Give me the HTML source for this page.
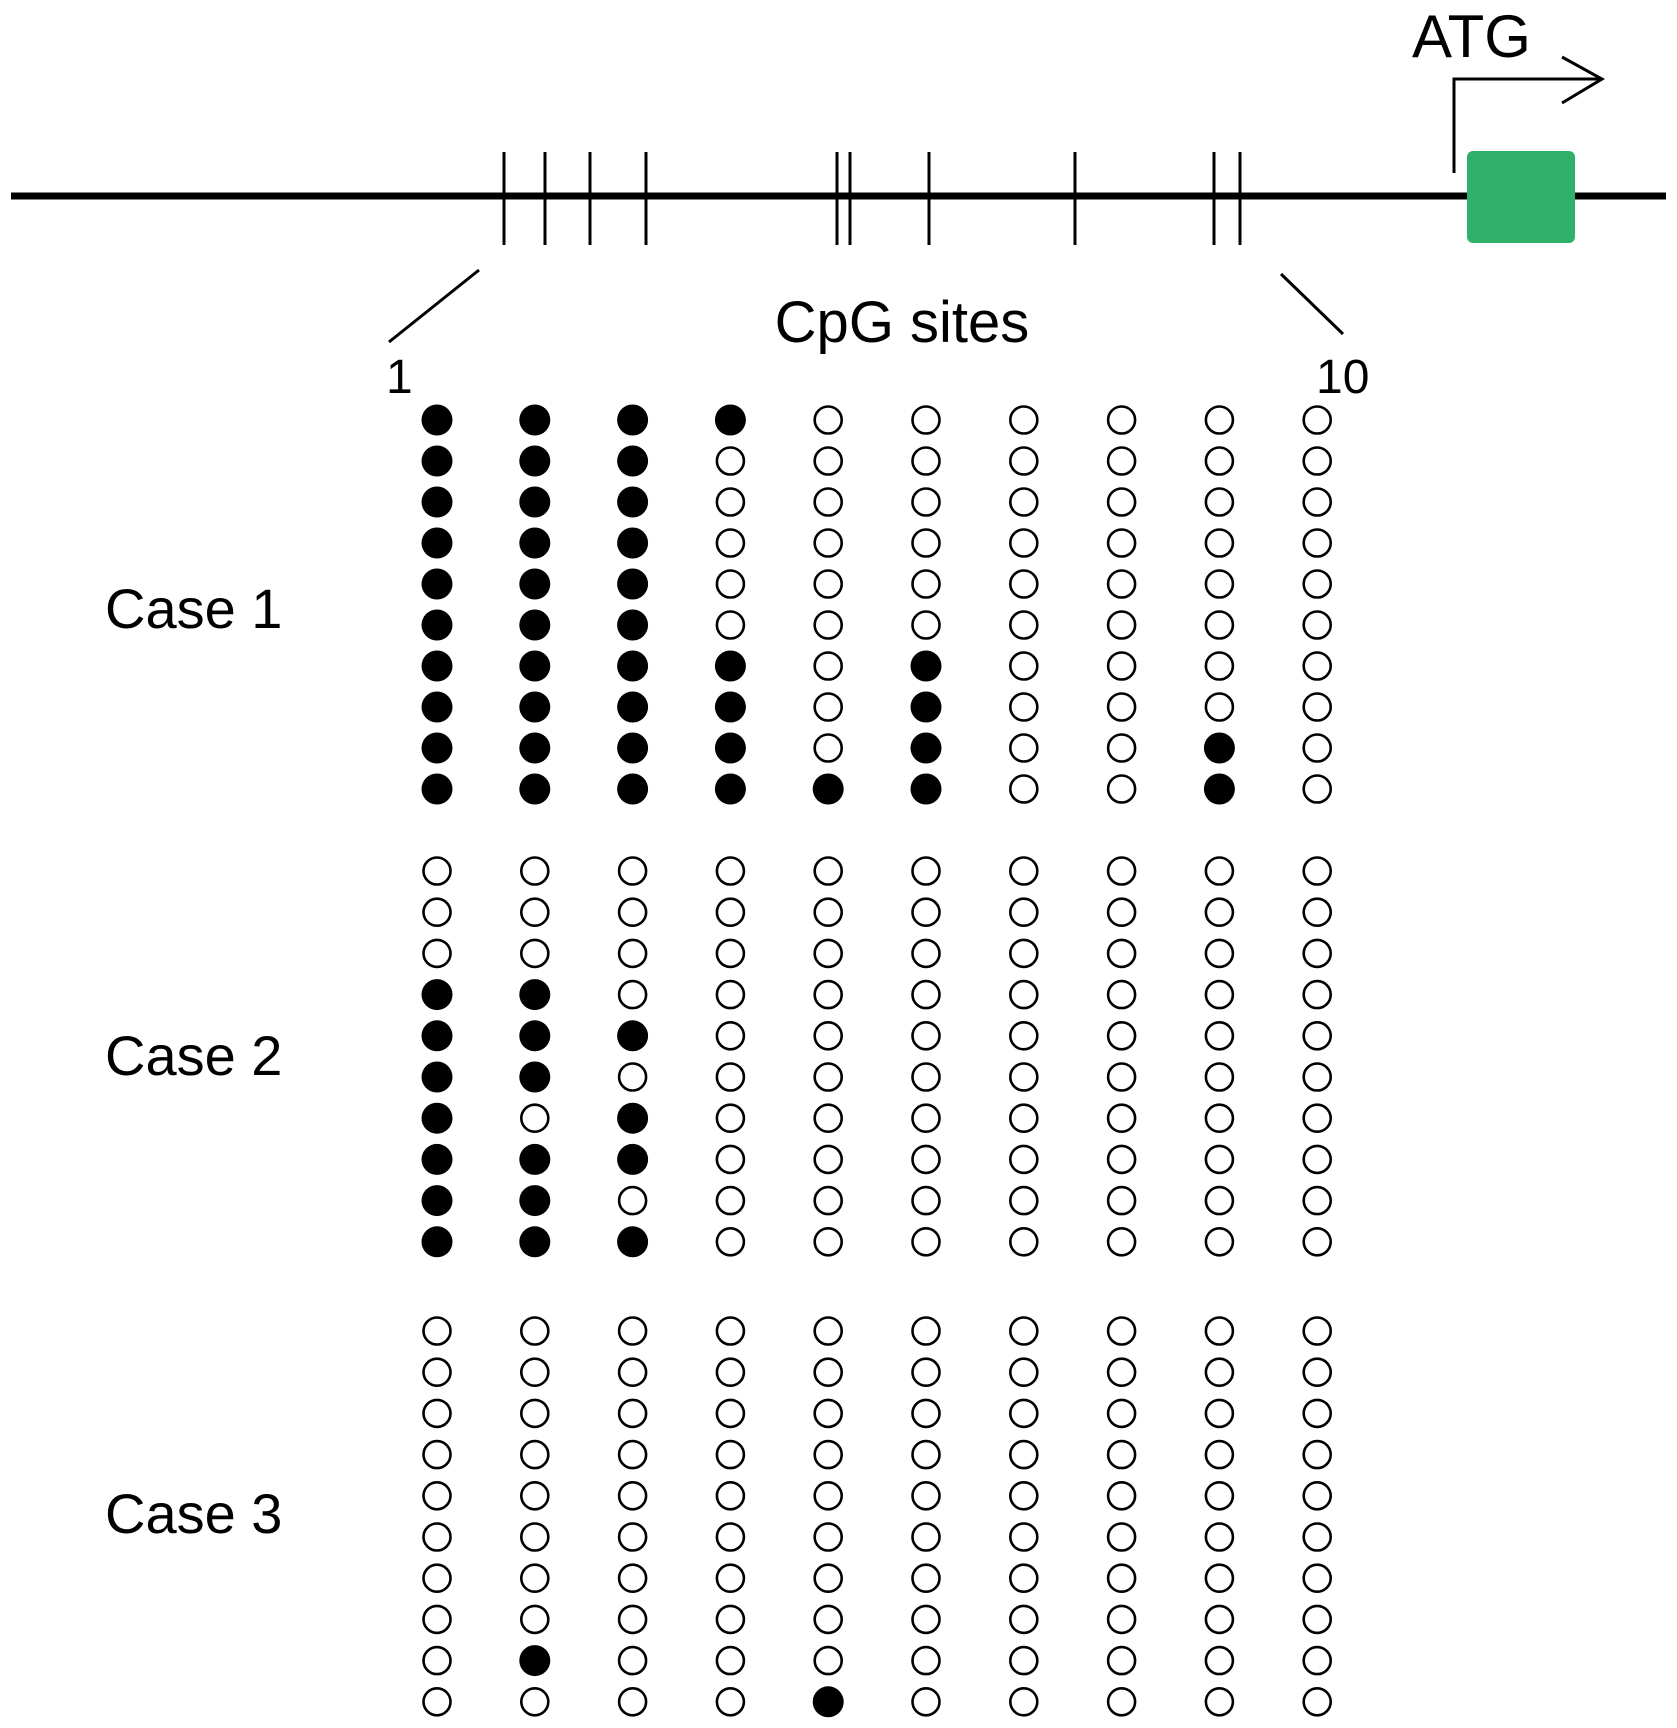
<!DOCTYPE html>
<html><head><meta charset="utf-8"><style>
html,body{margin:0;padding:0;background:#fff;}
svg{display:block;}
text{font-family:"Liberation Sans",Arial,sans-serif;fill:#000;}
</style></head><body>
<svg id="s" width="1677" height="1728" viewBox="0 0 1677 1728" xmlns="http://www.w3.org/2000/svg">
<line x1="11" y1="196" x2="1666" y2="196" stroke="#000" stroke-width="7"/>
<g stroke="#000" stroke-width="3">
<line x1="504" y1="152" x2="504" y2="245"/>
<line x1="545" y1="152" x2="545" y2="245"/>
<line x1="590" y1="152" x2="590" y2="245"/>
<line x1="646" y1="152" x2="646" y2="245"/>
<line x1="837" y1="152" x2="837" y2="245"/>
<line x1="850" y1="152" x2="850" y2="245"/>
<line x1="929" y1="152" x2="929" y2="245"/>
<line x1="1075" y1="152" x2="1075" y2="245"/>
<line x1="1214" y1="152" x2="1214" y2="245"/>
<line x1="1240" y1="152" x2="1240" y2="245"/>
<line x1="479" y1="270" x2="389" y2="342"/>
<line x1="1281" y1="274" x2="1343" y2="334"/>
<polyline points="1454,173 1454,79 1602,79" fill="none"/>
<polyline points="1562,57 1602,79 1562,103" fill="none"/>
</g>
<rect x="1467" y="151" width="108" height="92" rx="6" fill="#2fb06a"/>
<text x="1412" y="57" font-size="60">ATG</text>
<text x="902" y="342" font-size="58" text-anchor="middle">CpG sites</text>
<text x="386" y="393" font-size="48">1</text>
<text x="1316" y="393" font-size="48">10</text>
<text x="105" y="628" font-size="56">Case 1</text>
<text x="105" y="1075" font-size="56">Case 2</text>
<text x="105" y="1533" font-size="56">Case 3</text>
<g id="dots"></g>
</svg>
<script>
var c1=["1111000000","1110000000","1110000000","1110000000","1110000000","1110000000","1111010000","1111010000","1111010010","1111110010"];
var c2=["0000000000","0000000000","0000000000","1100000000","1110000000","1100000000","1010000000","1110000000","1100000000","1110000000"];
var c3=["0000000000","0000000000","0000000000","0000000000","0000000000","0000000000","0000000000","0000000000","0100000000","0000100000"];
var g=document.getElementById("dots"),h="";
function draw(p,y0,dy){for(var r=0;r<10;r++)for(var c=0;c<10;c++){var x=437+c*97.8,y=y0+r*dy;
if(p[r][c]=="1")h+='<circle cx="'+x+'" cy="'+y+'" r="15.5" fill="#000"/>';
else h+='<circle cx="'+x+'" cy="'+y+'" r="13.5" fill="none" stroke="#000" stroke-width="2.6"/>';}}
draw(c1,420,41);draw(c2,871,41.2);draw(c3,1331,41.2);
g.innerHTML=h;
</script>
</body></html>
